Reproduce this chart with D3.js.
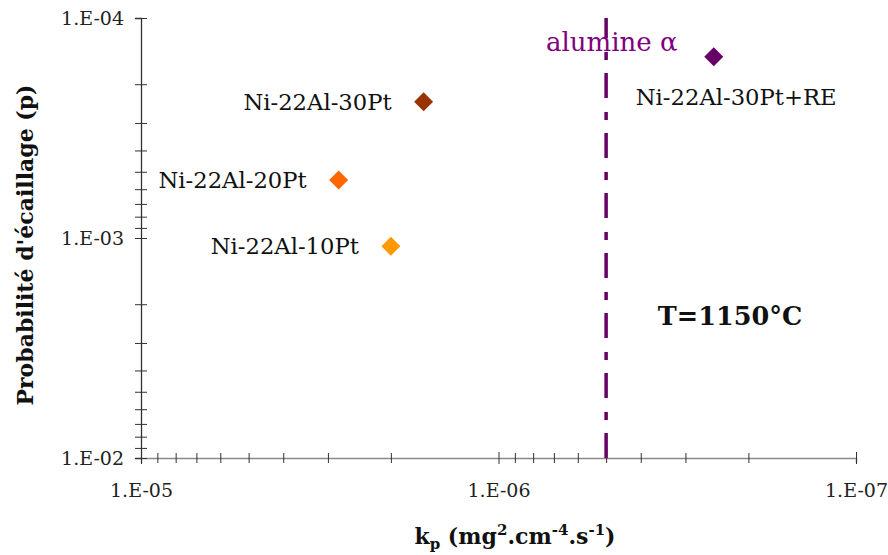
<!DOCTYPE html>
<html>
<head>
<meta charset="utf-8">
<script src="https://cdn.jsdelivr.net/npm/d3@7/dist/d3.min.js"></script>
<style>
  html, body { margin: 0; padding: 0; background: #fff; }
  svg text { font-family: "DejaVu Serif", serif; }
</style>
</head>
<body>
<svg id="chart" width="888" height="555"></svg>
<script>
// ---- data ----
const alloys = ["Ni-22Al-30Pt+RE", "Ni-22Al-30Pt", "Ni-22Al-20Pt", "Ni-22Al-10Pt"];
const kpValues = [2.5e-7, 1.62e-6, 2.8e-6, 2.0e-6];      // mg2.cm-4.s-1
const pValues = [1.5e-4, 2.4e-4, 5.45e-4, 1.09e-3];      // spalling probability
const alloyColors = ["#660066", "#993300", "#FF6600", "#FF9900"];
const aluminaKp = 5e-7;
const xTickValues = [1e-5, 1e-6, 1e-7];
const xTickLabels = ["1.E-05", "1.E-06", "1.E-07"];
const yTickValues = [1e-4, 1e-3, 1e-2];
const yTickLabels = ["1.E-04", "1.E-03", "1.E-02"];

// ---- layout ----
const svg = d3.select("#chart");
const x = d3.scaleLog().domain([1e-5, 1e-7]).range([141, 856]);
const y = d3.scaleLog().domain([1e-4, 1e-2]).range([18, 458]);

const isMajor = (d, list) => list.some(v => Math.abs(Math.log10(v) - Math.log10(d)) < 1e-6);
const labelFor = (d, vals, labs) => {
  const i = vals.findIndex(v => Math.abs(Math.log10(v) - Math.log10(d)) < 1e-6);
  return i >= 0 ? labs[i] : "";
};

// x axis
const xAxis = d3.axisBottom(x)
  .tickValues(x.ticks())
  .tickSize(5)
  .tickPadding(0)
  .tickFormat(d => labelFor(d, xTickValues, xTickLabels));
const gx = svg.append("g").attr("transform", "translate(0,458)").call(xAxis);
gx.select(".domain").attr("stroke", "#8a8a8a").attr("stroke-width", 1.5);
gx.selectAll(".tick line")
  .attr("stroke", "#333")
  .attr("y1", d => isMajor(d, xTickValues) ? -6 : -5)
  .attr("y2", d => isMajor(d, xTickValues) ? 6 : 5);
gx.selectAll(".tick text")
  .attr("y", 32).attr("dy", "0.35em")
  .attr("fill", "#222")
  .style("font-size", "19px");

// y axis
const yAxis = d3.axisLeft(y)
  .tickValues(y.ticks())
  .tickSize(6)
  .tickPadding(0)
  .tickFormat(d => labelFor(d, yTickValues, yTickLabels));
const gy = svg.append("g").attr("transform", "translate(141,0)").call(yAxis);
gy.select(".domain").attr("stroke", "#333").attr("stroke-width", 1.3);
gy.selectAll(".tick line")
  .attr("stroke", "#333")
  .attr("x1", 6).attr("x2", -6);
gy.selectAll(".tick text")
  .attr("x", -17).attr("dy", "0.35em")
  .attr("fill", "#222")
  .style("font-size", "19px");

// alumina line
svg.append("line")
  .attr("x1", x(aluminaKp)).attr("x2", x(aluminaKp))
  .attr("y1", y(1e-2)).attr("y2", y(1e-4))
  .attr("stroke", "#660066")
  .attr("stroke-width", 3.5)
  .attr("stroke-dasharray", "25,13,8,14");

// alumina label
svg.append("text")
  .attr("x", 546).attr("y", 51)
  .attr("fill", "#800080")
  .style("font-size", "26px")
  .text("alumine α");

// points
const diamond = d3.symbol().type(d3.symbolDiamond2).size(230);
svg.selectAll("path.pt")
  .data(alloys)
  .join("path")
  .attr("class", "pt")
  .attr("d", diamond)
  .attr("transform", (d, i) => `translate(${x(kpValues[i])},${y(pValues[i])})`)
  .attr("fill", (d, i) => alloyColors[i]);

// point labels
svg.selectAll("text.lbl")
  .data(alloys)
  .join("text")
  .attr("class", "lbl")
  .attr("x", (d, i) => i === 0 ? x(kpValues[i]) - 78 : x(kpValues[i]) - 32)
  .attr("y", (d, i) => i === 0 ? y(pValues[i]) + 40 : y(pValues[i]))
  .attr("dy", "0.35em")
  .attr("text-anchor", (d, i) => i === 0 ? "start" : "end")
  .attr("fill", "#111")
  .style("font-size", "22.7px")
  .text(d => d);

// temperature
svg.append("text")
  .attr("x", 730).attr("y", 316).attr("dy", "0.35em")
  .attr("text-anchor", "middle")
  .attr("fill", "#111")
  .style("font-size", "25.5px").style("font-weight", "bold")
  .text("T=1150°C");

// y title
svg.append("text")
  .attr("transform", "translate(33,245) rotate(-90)")
  .attr("text-anchor", "middle")
  .attr("fill", "#111")
  .style("font-size", "22px").style("font-weight", "bold")
  .text("Probabilité d'écaillage (p)");

// x title
const xt = svg.append("text")
  .attr("x", 515).attr("y", 544)
  .attr("text-anchor", "middle")
  .attr("fill", "#111")
  .style("font-size", "22px").style("font-weight", "bold");
xt.append("tspan").text("k");
xt.append("tspan").attr("dy", 5).style("font-size", "15px").text("p");
xt.append("tspan").attr("dy", -5).text(" (mg");
xt.append("tspan").attr("dy", -9).style("font-size", "15px").text("2");
xt.append("tspan").attr("dy", 9).text(".cm");
xt.append("tspan").attr("dy", -9).style("font-size", "15px").text("-4");
xt.append("tspan").attr("dy", 9).text(".s");
xt.append("tspan").attr("dy", -9).style("font-size", "15px").text("-1");
xt.append("tspan").attr("dy", 9).text(")");
</script>
</body>
</html>
